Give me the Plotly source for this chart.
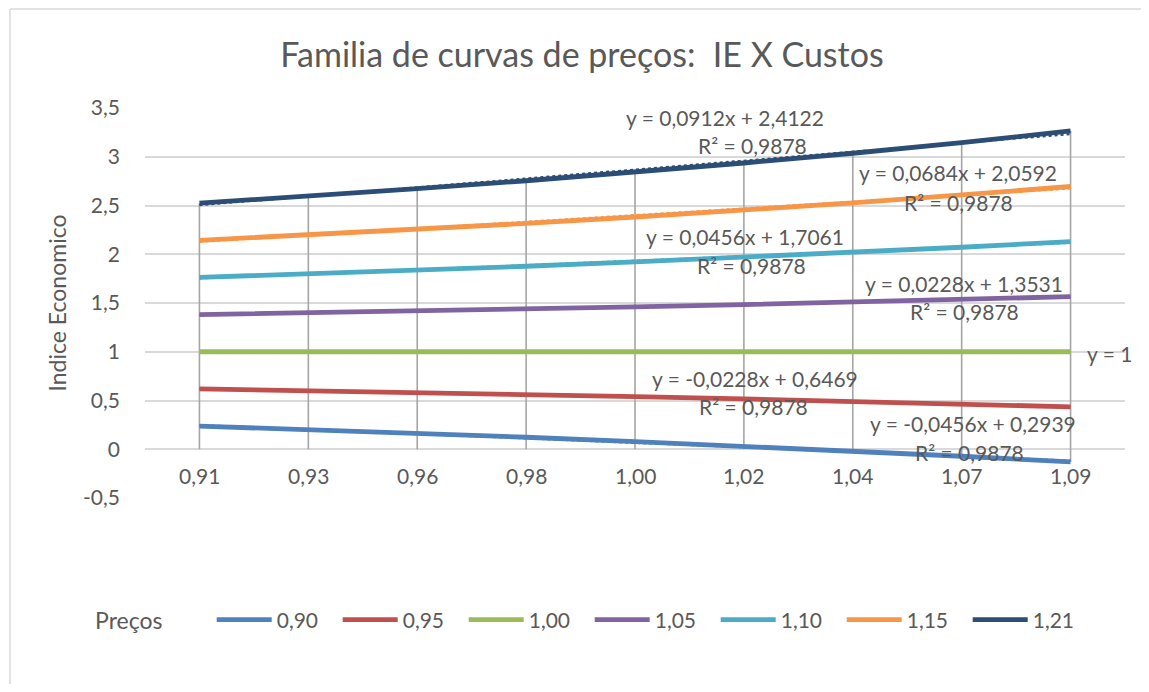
import plotly.graph_objects as go

# categories (custos) on the x axis
custos = ["0,91", "0,93", "0,96", "0,98", "1,00", "1,02", "1,04", "1,07", "1,09"]
idx = list(range(1, len(custos) + 1))

# one series per price level
precos = ["0,90", "0,95", "1,00", "1,05", "1,10", "1,15", "1,21"]
ie_090 = [0.238, 0.202, 0.164, 0.123, 0.079, 0.032, -0.018, -0.072, -0.130]
ie_095 = [0.619, 0.601, 0.582, 0.562, 0.540, 0.516, 0.491, 0.464, 0.435]
ie_100 = [1.0, 1.0, 1.0, 1.0, 1.0, 1.0, 1.0, 1.0, 1.0]
ie_105 = [1.381, 1.399, 1.418, 1.439, 1.461, 1.484, 1.509, 1.536, 1.565]
ie_110 = [1.762, 1.798, 1.836, 1.877, 1.921, 1.968, 2.018, 2.072, 2.130]
ie_115 = [2.143, 2.197, 2.254, 2.316, 2.382, 2.452, 2.527, 2.608, 2.695]
ie_121 = [2.524, 2.596, 2.672, 2.754, 2.842, 2.936, 3.036, 3.144, 3.265]
series = [ie_090, ie_095, ie_100, ie_105, ie_110, ie_115, ie_121]

# linear trendlines as shown on the chart
slopes = [-0.0456, -0.0228, 0.0, 0.0228, 0.0456, 0.0684, 0.0912]
intercepts = [0.2939, 0.6469, 1.0, 1.3531, 1.7061, 2.0592, 2.4122]
r2 = ["0,9878", "0,9878", None, "0,9878", "0,9878", "0,9878", "0,9878"]

# y axis ticks
y_ticks = [-0.5, 0, 0.5, 1, 1.5, 2, 2.5, 3, 3.5]
y_ticktext = ["-0,5", "0", "0,5", "1", "1,5", "2", "2,5", "3", "3,5"]

colors = ["#4F81BD", "#C0504D", "#9BBB59", "#8064A2", "#4BACC6", "#F79646", "#2C4D75"]
txt = "#595959"
font = "Lato"

fig = go.Figure()

# drop lines (vertical grey lines from the axis to the highest point)
dx, dy = [], []
for i in range(len(custos)):
    vals = [s[i] for s in series]
    dx += [idx[i], idx[i], None]
    dy += [min(0, min(vals)), max(vals), None]
fig.add_trace(go.Scatter(x=dx, y=dy, mode="lines", line=dict(color="#A5A5A5", width=1.6),
                         showlegend=False, hoverinfo="skip"))

for name, s, c in zip(precos, series, colors):
    fig.add_trace(go.Scatter(x=idx, y=s, mode="lines", name=name,
                             line=dict(color=c, width=4.8)))

for s, b, c in zip(slopes, intercepts, colors):
    fig.add_trace(go.Scatter(x=[idx[0], idx[-1]], y=[b + s * idx[0], b + s * idx[-1]],
                             mode="lines", line=dict(color=c, width=2.2, dash="dot"),
                             showlegend=False, hoverinfo="skip"))

# trendline labels: (x, y) of each text line, in axis units
def fmt(v):
    return ("%.4f" % v).replace(".", ",")

def eq(s, b):
    if s == 0:
        return "y = " + str(int(b))
    return "y = %sx + %s" % (fmt(s), fmt(b))

lab_pos = [
    ((8.10, 0.266), (8.07, -0.03)),
    ((6.10, 0.727), (6.09, 0.44)),
    ((9.36, 0.98), None),
    ((8.02, 1.70), (8.03, 1.414)),
    ((6.01, 2.18), (6.07, 1.885)),
    ((7.97, 2.84), (7.97, 2.53)),
    ((5.83, 3.40), (6.08, 3.12)),
]
for k in range(len(slopes)):
    p1, p2 = lab_pos[k]
    fig.add_annotation(x=p1[0], y=p1[1], text=eq(slopes[k], intercepts[k]), showarrow=False,
                       font=dict(size=21, color=txt, family=font))
    if p2 is not None:
        fig.add_annotation(x=p2[0], y=p2[1], text="R² = " + r2[k], showarrow=False,
                           font=dict(size=21, color=txt, family=font))

# category labels just under the zero line
for i, lab in zip(idx, custos):
    fig.add_annotation(x=i, y=0, text=lab, showarrow=False, yanchor="top", yshift=-12,
                       font=dict(size=21, color=txt, family=font))

# chart area border: only the left and top edges are visible in the picture
border = dict(color="#D9D9D9", width=1.5)
fig.add_shape(type="line", xref="paper", yref="paper", x0=-0.1378, x1=-0.1378, y0=-0.6, y1=1.2538,
              line=border, layer="below")
fig.add_shape(type="line", xref="paper", yref="paper", x0=-0.1378, x1=1.1, y0=1.2538, y1=1.2538,
              line=border, layer="below")

fig.update_layout(
    width=1133, height=676,
    margin=dict(l=137, r=16, t=100, b=186),
    paper_bgcolor="white", plot_bgcolor="white",
    separators=", ",
    font=dict(family=font, color=txt, size=21),
    title=dict(text="Familia de curvas de preços:  IE X Custos", x=0.5066, xanchor="center",
               y=0.9305, yanchor="middle", font=dict(size=34, color=txt, family=font)),
    xaxis=dict(range=[0.5, 9.5], showticklabels=False, showgrid=False, zeroline=False,
               showline=False, fixedrange=True),
    yaxis=dict(range=[-0.5, 3.5], tickmode="array", tickvals=y_ticks, ticktext=y_ticktext,
               showgrid=True, gridcolor="#D9D9D9",
               gridwidth=1.5, zeroline=True, zerolinecolor="#D9D9D9", zerolinewidth=1.5,
               tickfont=dict(size=21, color=txt), ticks="", ticklabelstandoff=24,
               title=dict(text="Indice Economico", font=dict(size=23, color=txt), standoff=10)),
    legend=dict(orientation="h", x=-0.053, xanchor="left", y=-0.313, yanchor="middle",
                title=dict(text="Preços       ", side="left", font=dict(size=23, color=txt)),
                font=dict(size=21, color=txt), entrywidth=56, itemwidth=55),
    showlegend=True,
)

fig.write_html("out.html")
